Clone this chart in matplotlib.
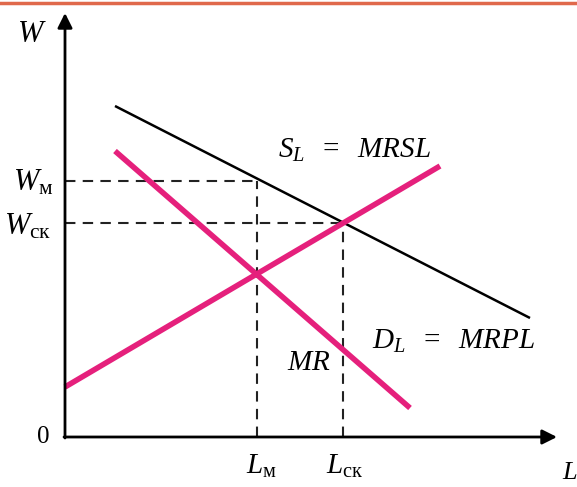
import matplotlib
matplotlib.use("Agg")
import matplotlib.pyplot as plt
from matplotlib.lines import Line2D

# --- data (economic units: L to the right, W upwards) ---
demand_L = [5.0, 46.5]      # D_L = MRPL
demand_W = [33.1, 11.9]
supply_L = [0.0, 37.5]      # S_L = MRSL
supply_W = [5.0, 27.1]
mr_L = [5.0, 34.5]          # MR
mr_W = [28.6, 2.9]

L_m, L_sk = 19.2, 27.8
W_m, W_sk = 25.6, 21.4

x_max, y_max = 49.2, 42.4

plt.rcParams["mathtext.fontset"] = "custom"
plt.rcParams["mathtext.it"] = "Liberation Serif:italic"
plt.rcParams["mathtext.rm"] = "Liberation Serif"
plt.rcParams["font.family"] = "Liberation Serif"

PINK = "#e5207c"

fig = plt.figure(figsize=(5.77, 4.87), dpi=100)
ax = fig.add_axes([0, 0, 1, 1])
ax.set_xlim(-6.5, 51.2)
ax.set_ylim(-5.0, 43.7)
ax.axis("off")

# orange rule at the top
fig.add_artist(Line2D([0, 1], [1 - 2.5 / 487] * 2, transform=fig.transFigure,
                      color="#e0694b", lw=2.5))

# axes with arrows
arr = dict(arrowstyle="-|>", lw=2, color="black", mutation_scale=22,
           shrinkA=0, shrinkB=0)
ax.annotate("", xy=(0, y_max), xytext=(0, -0.1), arrowprops=arr)
ax.annotate("", xy=(x_max, 0), xytext=(-0.1, 0), arrowprops=arr)

# dashed guides
dash = dict(color="#222222", lw=1.5, ls=(0, (5, 3.5)))
ax.plot([0, L_m], [W_m, W_m], **dash)
ax.plot([0, L_sk], [W_sk, W_sk], **dash)
ax.plot([L_m, L_m], [0, W_m], **dash)
ax.plot([L_sk, L_sk], [0, W_sk], **dash)

# curves
ax.plot(demand_L, demand_W, color="black", lw=1.8, solid_capstyle="butt")
ax.plot(supply_L, supply_W, color=PINK, lw=4, solid_capstyle="butt")
ax.plot(mr_L, mr_W, color=PINK, lw=4, solid_capstyle="butt")

# labels
ax.text(-3.3, 40.2, r"$W$", fontsize=22, ha="center", va="center")
ax.text(-1.2, 25.4, r"$W_{\mathrm{м}}$", fontsize=22, ha="right", va="center")
ax.text(-1.4, 21.0, r"$W_{\mathrm{ск}}$", fontsize=22, ha="right", va="center")
ax.text(-2.2, 0.0, "0", fontsize=18, ha="center", va="center")
ax.text(L_m + 0.4, -2.9, r"$L_{\mathrm{м}}$", fontsize=21, ha="center", va="center")
ax.text(L_sk + 0.2, -2.9, r"$L_{\mathrm{ск}}$", fontsize=21, ha="center", va="center")
ax.text(49.7, -3.6, r"$L$", fontsize=19, ha="left", va="center")
ax.text(21.3, 28.7, r"$S_L\ \ =\ \ MRSL$", fontsize=21, ha="left", va="center")
ax.text(30.7, 9.6, r"$D_L\ \ =\ \ MRPL$", fontsize=21, ha="left", va="center")
ax.text(22.2, 7.4, r"$MR$", fontsize=21, ha="left", va="center")

fig.savefig("out.png", dpi=100)
